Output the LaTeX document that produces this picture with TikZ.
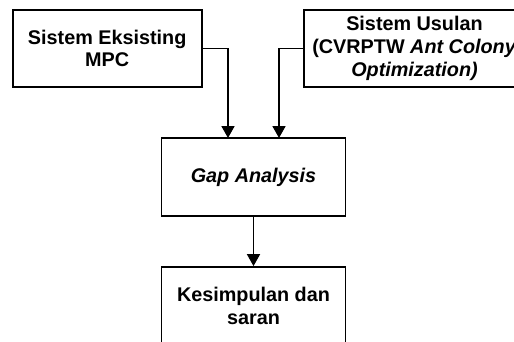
\documentclass[tikz,border=0pt]{standalone}
\usepackage{fontspec}
\setmainfont{Liberation Sans}
\usetikzlibrary{arrows.meta}
\begin{document}
\begin{tikzpicture}[x=1pt,y=-1pt,
  box/.style={draw=black,line width=1.8pt,rectangle,align=center,
    font=\fontsize{19.8pt}{22.7pt}\selectfont\bfseries,inner sep=0pt},
  conn/.style={line width=1.8pt,-{Triangle[length=12pt,width=13pt]}}]
\useasboundingbox (0,0) rectangle (514,341);
\clip (0,0) rectangle (514,341);
\fill[white] (0,0) rectangle (514,341);
\node[box,minimum width=189pt,minimum height=77pt] (exist) at (107.2,48.5) {Sistem Eksisting\\MPC};
\node[box,minimum width=221pt,minimum height=77pt] (usul) at (414.5,48.5) {Sistem Usulan\\(CVRPTW \textit{Ant Colony}\\\textit{Optimization)}};
\node[box,minimum width=184pt,minimum height=78pt] (gap) at (253.5,177) {\textit{Gap Analysis}};
\node[box,minimum width=184pt,minimum height=78pt] (kes) at (253.5,306) {Kesimpulan dan\\saran};
\coordinate (gin1) at (228,138);
\coordinate (gin2) at (279,138);
\draw[conn] (exist.east) -| (gin1);
\draw[conn] (usul.west) -| (gin2);
\draw[conn] (gap.south) -- (kes.north);
\end{tikzpicture}
\end{document}
